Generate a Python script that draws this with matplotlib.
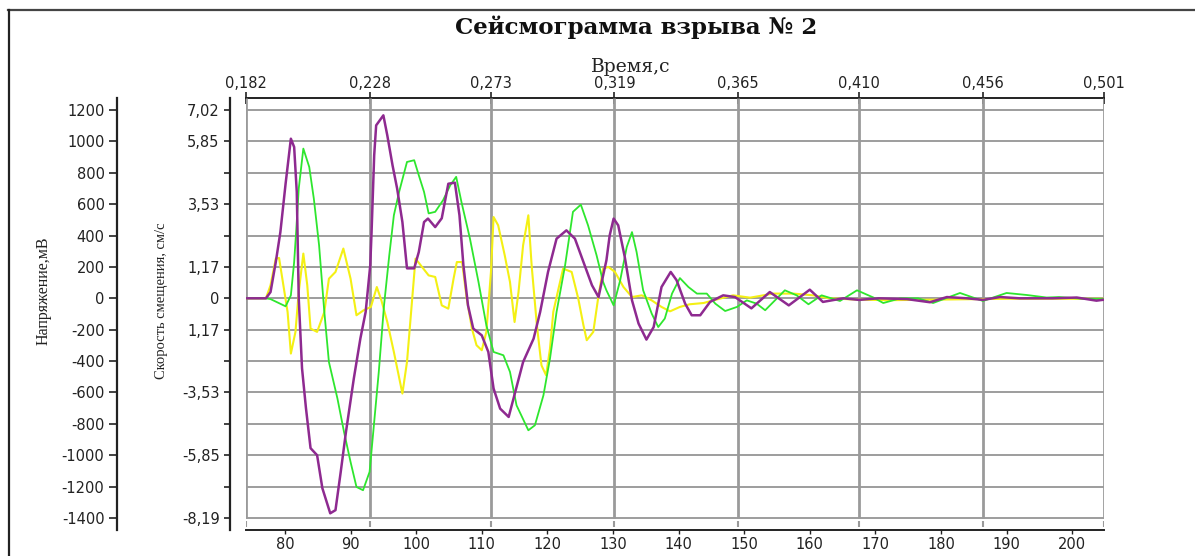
import matplotlib
matplotlib.use("Agg")
import matplotlib.pyplot as plt
from matplotlib.lines import Line2D
import numpy as np

# ---------------- data ----------------
title = "Сейсмограмма взрыва № 2"
time_label = "Время,с"
mv_label = "Напряжение,мВ"
vel_label = "Скорость смещения, см/с"

time_ticks = [0.182, 0.228, 0.273, 0.319, 0.365, 0.410, 0.456, 0.501]
time_tick_labels = ["0,182", "0,228", "0,273", "0,319", "0,365", "0,410", "0,456", "0,501"]

sample_ticks = [80, 90, 100, 110, 120, 130, 140, 150, 160, 170, 180, 190, 200]
sample_tick_labels = [str(v) for v in sample_ticks]
sample_range = [74.06, 204.85]          # sample numbers at 0,182 s and 0,501 s

mv_ticks = [1200, 1000, 800, 600, 400, 200, 0, -200, -400, -600, -800, -1000, -1200, -1400]
mv_tick_labels = ["1200", "1000", "800", "600", "400", "200", "0", "-200", "-400", "-600",
                  "-800", "-1000", "-1200", "-1400"]
vel_tick_labels = ["7,02", "5,85", "", "3,53", "", "1,17", "0", "1,17", "", "-3,53", "",
                   "-5,85", "", "-8,19"]

purple_s = [74, 77.1, 77.8, 78.6, 79.3, 80.1, 80.9, 81.4, 81.8, 82.1, 82.6, 83.2, 83.9, 84.9,
            85.7, 86.9, 87.7, 88.5, 89.3, 90.5, 91.5, 92.3, 93.0, 93.2, 93.6, 93.9, 95.0, 95.6,
            96.4, 97.1, 97.9, 98.6, 99.7, 100.4, 101.2, 101.8, 102.9, 103.9, 104.9, 105.9,
            106.6, 107.2, 107.9, 108.7, 110.0, 111.0, 111.8, 112.8, 114.1, 115.1, 116.3,
            117.9, 118.9, 120.1, 121.4, 122.9, 124.2, 125.5, 126.8, 127.8, 128.5, 129.0,
            129.5, 130.1, 130.8, 131.8, 132.9, 133.9, 135.1, 136.2, 137.4, 138.8, 139.7,
            141.0, 142.0, 143.3, 144.8, 146.8, 148.6, 151.1, 153.9, 156.8, 160.0, 162.0,
            165.1, 167.5, 170.5, 174.8, 178.3, 180.9, 184.0, 186.4, 189.0, 192.0, 197.0,
            200.7, 203.7, 205]
purple_mv = [0, 0, 40, 231, 422, 732, 1017, 964, 677, 0, -446, -700, -955, -1000,
             -1210, -1370, -1350, -1106, -851, -510, -255, -87, 210, 422, 911, 1102, 1166, 1038,
             847, 699, 486, 191, 191, 295, 486, 508, 454, 510, 730, 737,
             529, 210, -45, -193, -236, -342, -575, -703, -756, -597, -406,
             -257, -87, 168, 380, 433, 380, 231, 83, 8, 146, 242,
             401, 508, 465, 263, -13, -161, -263, -183, 72, 168, 115,
             -34, -108, -108, -23, 19, 8, -64, 40, -45, 55, -23,
             0, -10, 0, -5, -25, 8, 0, -10, 8, 0, 0,
             5, -15, -8]

green_s = [74, 77.1, 77.8, 80.1, 80.9, 81.4, 81.7, 82.1, 82.8, 83.7, 84.4, 85.2, 86.0, 86.7,
           88.0, 89.0, 90.0, 90.9, 91.9, 92.9, 93.6, 94.3, 95.1, 95.9, 96.6, 97.4, 98.6, 99.7,
           100.4, 101.2, 101.9, 102.9, 104.1, 105.2, 106.1, 106.9, 108.2, 109.5, 110.7, 111.8,
           113.3, 114.3, 115.3, 117.1, 118.1, 119.4, 120.4, 121.4, 122.7, 123.9, 125.1, 126.2,
           127.5, 128.5, 129.0, 130.1, 131.1, 132.1, 132.9, 133.6, 134.6, 135.9, 136.9, 137.9,
           139.0, 140.2, 141.5, 142.8, 144.3, 145.6, 147.1, 148.9, 150.4, 151.9, 153.2, 155.0,
           156.2, 158.0, 159.8, 161.8, 164.6, 167.2, 169.7, 171.2, 173.8, 176.5, 178.8, 182.9,
           186.4, 190.0, 193.1, 196.1, 198.0, 201.7, 205]
green_mv = [0, 0, -5, -51, 19, 231, 422, 699, 954, 837, 635, 338, -87, -406,
            -639, -851, -1043, -1202, -1223, -1106, -788, -469, -45, 274, 529, 678, 869, 880,
            784, 678, 541, 551, 625, 721, 774, 614, 380, 104, -172, -342,
            -363, -469, -682, -841, -809, -618, -384, -87, 210, 551, 597, 465,
            274, 104, 51, -45, 115, 327, 422, 295, 51, -97, -183, -129,
            30, 129, 72, 30, 30, -34, -81, -55, -13, -34, -76, 0,
            51, 19, -38, 19, -17, 51, 5, -30, 0, 0, -30, 34,
            -17, 34, 21, 5, 8, -3, -5]

yellow_s = [74, 77.1, 77.8, 78.6, 79.1, 79.6, 80.4, 80.9, 81.6, 82.1, 82.8, 83.4, 83.9, 84.9,
            86.0, 86.7, 87.7, 88.9, 90.0, 90.9, 92.0, 93.1, 94.0, 94.7, 95.6, 96.6, 97.9, 98.6,
            99.4, 99.9, 100.7, 101.9, 102.9, 103.9, 104.9, 105.7, 106.2, 107.0, 107.7, 108.5,
            109.2, 110.0, 110.7, 111.4, 111.8, 112.5, 113.5, 114.3, 115.0, 115.6, 116.3, 117.1,
            117.6, 118.4, 119.1, 119.8, 120.4, 120.9, 121.7, 122.4, 123.7, 124.7, 125.5, 126.0,
            127.0, 127.8, 128.5, 129.3, 130.3, 131.6, 132.9, 134.4, 135.9, 137.4, 138.7, 140.2,
            141.7, 143.8, 146.3, 148.3, 150.9, 154.4, 157.5, 160.5, 163.0, 167.0, 172.0, 180.0,
            190.0, 205]
yellow_mv = [0, 0, 83, 253, 257, 125, -87, -352, -214, 40, 285, 83, -193, -214,
             -87, 125, 168, 317, 125, -108, -76, -55, 72, -13, -151, -342, -607, -406,
             0, 253, 210, 146, 136, -45, -66, 125, 231, 231, 0, -193,
             -299, -331, -214, 168, 518, 465, 274, 104, -151, 40, 338, 529,
             210, -172, -427, -490, -320, -87, 62, 189, 168, 0, -172, -267,
             -214, 19, 189, 200, 168, 72, 8, 19, -13, -55, -83, -55,
             -38, -30, -2, 19, 4, 30, 30, 19, 0, -8, -12, -8,
             -3, -3]

# ---------------- figure ----------------
plt.rcParams["font.family"] = ["DejaVu Sans"]
W, H = 1195, 556
fig = plt.figure(figsize=(W / 100, H / 100), dpi=100)
fig.patch.set_facecolor("white")


def rect(x0, y0, x1, y1):
    return [x0 / W, 1 - y1 / H, (x1 - x0) / W, (y1 - y0) / H]


def fx(x):
    return x / W


def fy(y):
    return 1 - y / H


ppm = 408 / 2600.0
ylim = (-1400 - 12 / ppm, 1200 + 12 / ppm)

ax = fig.add_axes(rect(246, 98, 1104, 530))
ax.set_xlim(*sample_range)
ax.set_ylim(*ylim)
ax.patch.set_visible(False)

slope = (time_ticks[-1] - time_ticks[0]) / (sample_range[1] - sample_range[0])


def s2t(s):
    return time_ticks[0] + (np.asarray(s) - sample_range[0]) * slope


def t2s(t):
    return sample_range[0] + (np.asarray(t) - time_ticks[0]) / slope


# grid
for v in mv_ticks:
    ax.axhline(v, color="#8c8c8c", lw=1.2, zorder=1)
tx = t2s(np.array(time_ticks))
ax.vlines(tx, -1400, ylim[1], color="#9a9a9a", lw=2.0, zorder=1)
ax.vlines(tx, -1420, -1457, color="#9a9a9a", lw=1.5, zorder=1)

# series
ax.plot(yellow_s, yellow_mv, color="#f4f014", lw=1.5, zorder=3)
ax.plot(green_s, green_mv, color="#2ee62e", lw=1.3, zorder=4)
ax.plot(purple_s, purple_mv, color="#8e2a90", lw=1.8, zorder=5)

# spines
for sp in ["top", "right"]:
    ax.spines[sp].set_visible(False)
ax.spines["bottom"].set_color("#222222")
ax.spines["bottom"].set_linewidth(1.4)
ax.spines["left"].set_position(("outward", 16 * 0.72))
ax.spines["left"].set_color("#222222")
ax.spines["left"].set_linewidth(1.6)

tick_font = dict(fontsize=10.5, family="DejaVu Sans", color="#222222")
ax.set_xticks(sample_ticks)
ax.set_xticklabels(sample_tick_labels, **tick_font)
ax.tick_params(axis="x", direction="out", length=3, width=1, pad=2, colors="#222222")
ax.set_yticks(mv_ticks)
ax.set_yticklabels(vel_tick_labels, **tick_font)
ax.tick_params(axis="y", direction="out", length=4.5, width=1.2, pad=3, colors="#222222")

# top time axis
sec = ax.secondary_xaxis("top", functions=(s2t, t2s))
sec.set_xticks(time_ticks)
sec.set_xticklabels(time_tick_labels, **tick_font)
sec.tick_params(direction="inout", length=8, width=1.2, pad=1, colors="#222222")
sec.spines["top"].set_color("#222222")
sec.spines["top"].set_linewidth(1.4)

# voltage axis
axm = fig.add_axes(rect(246, 98, 1104, 530))
axm.set_ylim(*ylim)
axm.set_xlim(*sample_range)
axm.patch.set_visible(False)
for sp in ["top", "right", "bottom"]:
    axm.spines[sp].set_visible(False)
axm.spines["left"].set_position(("outward", 129 * 0.72))
axm.spines["left"].set_color("#222222")
axm.spines["left"].set_linewidth(1.6)
axm.set_xticks([])
axm.set_yticks(mv_ticks)
axm.set_yticklabels(mv_tick_labels, **tick_font)
axm.tick_params(axis="y", direction="out", length=6, width=1.2, pad=3, colors="#222222")

# texts
fig.text(fx(636), fy(27), title, ha="center", va="center", fontsize=16.5,
         family="DejaVu Serif", fontweight="bold", color="#111111")
fig.text(fx(631), fy(67), time_label, ha="center", va="center", fontsize=13.5,
         family="DejaVu Serif", color="#222222")
fig.text(fx(44), fy(291), mv_label, ha="center", va="center", rotation=90,
         fontsize=11.5, family="Liberation Serif", color="#222222")
fig.text(fx(162), fy(301), vel_label, ha="center", va="center", rotation=90,
         fontsize=10.5, family="Liberation Serif", color="#222222")

# outer frame (top and left edges)
fig.add_artist(Line2D([fx(8), 1.0], [fy(9.5), fy(9.5)], color="#444444", lw=1.6))
fig.add_artist(Line2D([fx(8.5), fx(8.5)], [0.0, fy(9.5)], color="#222222", lw=1.6))

fig.savefig("out.png", dpi=100, facecolor="white")
